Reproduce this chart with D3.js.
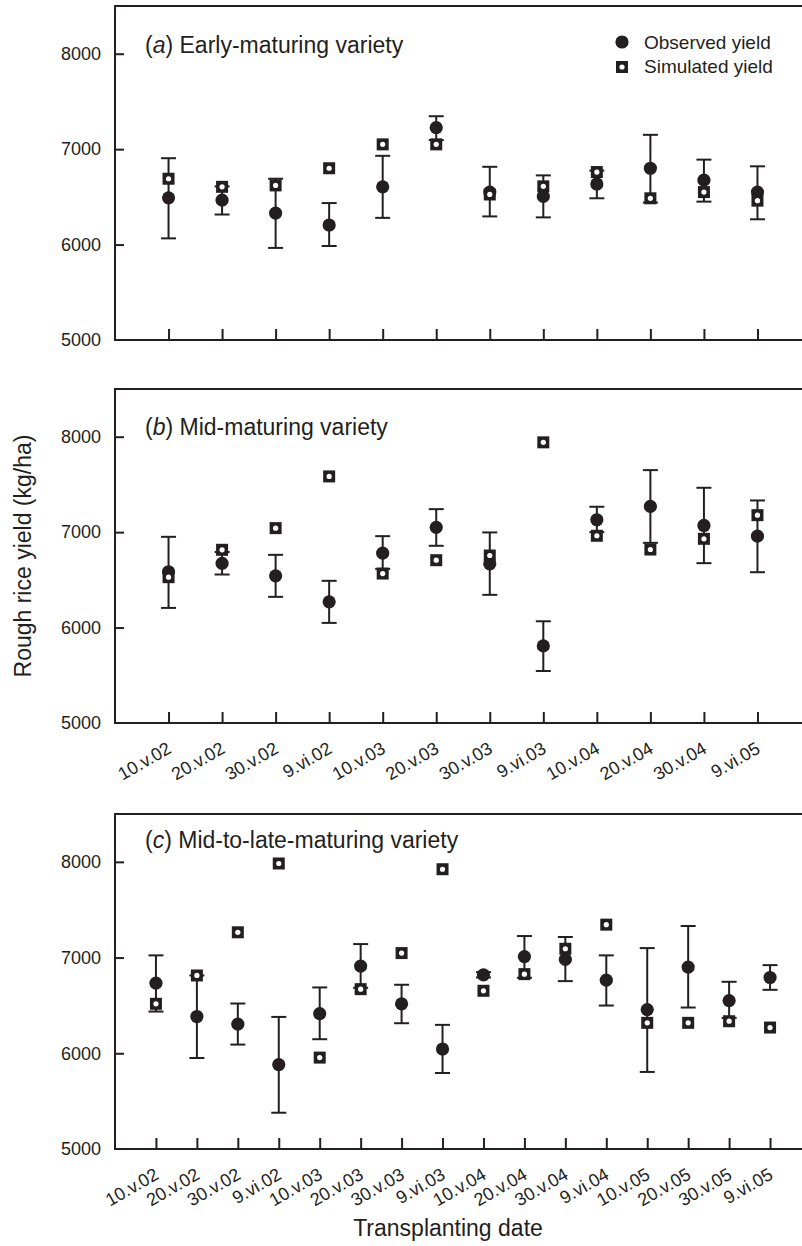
<!DOCTYPE html>
<html>
<head>
<meta charset="utf-8">
<script src="https://cdnjs.cloudflare.com/ajax/libs/d3/7.8.5/d3.min.js"></script>
<style>
  body { margin: 0; background: #fff; }
  text { font-family: "Liberation Sans", Arial, Helvetica, sans-serif; fill: #231f20; }
</style>
</head>
<body>
<div id="chart"></div>
<script>
// transplanting dates
var datesAB = ["10.v.02", "20.v.02", "30.v.02", "9.vi.02", "10.v.03", "20.v.03",
               "30.v.03", "9.vi.03", "10.v.04", "20.v.04", "30.v.04", "9.vi.05"];
var datesC = ["10.v.02", "20.v.02", "30.v.02", "9.vi.02", "10.v.03", "20.v.03",
              "30.v.03", "9.vi.03", "10.v.04", "20.v.04", "30.v.04", "9.vi.04",
              "10.v.05", "20.v.05", "30.v.05", "9.vi.05"];

// (a) early-maturing
var obsA = [6490, 6465, 6330, 6205, 6605, 7225, 6550, 6505, 6635, 6800, 6675, 6550];
var simA = [6690, 6605, 6620, 6800, 7050, 7050, 6525, 6610, 6760, 6485, 6550, 6460];
var hiA  = [6905, 6610, 6690, 6435, 6930, 7345, 6815, 6725, 6775, 7150, 6890, 6820];
var loA  = [6065, 6315, 5965, 5985, 6280, 7095, 6295, 6285, 6485, 6440, 6450, 6265];

// (b) mid-maturing
var obsB = [6585, 6672, 6542, 6270, 6780, 7050, 6668, 5808, 7130, 7270, 7070, 6958];
var simB = [6528, 6815, 7042, 7584, 6566, 6706, 6755, 7941, 6962, 6818, 6930, 7178];
var hiB  = [6951, 6792, 6762, 6490, 6958, 7241, 6997, 6066, 7266, 7650, 7465, 7332];
var loB  = [6206, 6556, 6322, 6049, 6615, 6857, 6343, 5545, 7000, 6888, 6675, 6580];

// (c) mid-to-late-maturing
var obsC = [6733, 6384, 6304, 5882, 6415, 6911, 6517, 6045, 6820, 7010, 6981, 6764, 6457, 6901, 6551, 6792];
var simC = [6517, 6813, 7264, 7983, 5955, 6670, 7047, 7923, 6653, 6827, 7092, 7344, 6318, 6318, 6335, 6269];
var hiC  = [7023, 6813, 6520, 6380, 6688, 7141, 6716, 6297, 6848, 7225, 7215, 7023, 7099, 7330, 6747, 6921];
var loC  = [6436, 5951, 6091, 5379, 6147, 6684, 6314, 5794, 6792, 6789, 6754, 6499, 5805, 6478, 6370, 6663];

var yTicks = [5000, 6000, 7000, 8000];

var panels = [
  {letter: "a", title: " Early-maturing variety", dates: datesAB, obs: obsA, sim: simA, hi: hiA, lo: loA,
   top: 6, bottom: 340, titleY: 53, labels: false, legend: true},
  {letter: "b", title: " Mid-maturing variety", dates: datesAB, obs: obsB, sim: simB, hi: hiB, lo: loB,
   top: 389, bottom: 723, titleY: 435, labels: true, legend: false},
  {letter: "c", title: " Mid-to-late-maturing variety", dates: datesC, obs: obsC, sim: simC, hi: hiC, lo: loC,
   top: 814, bottom: 1149, titleY: 848, labels: true, legend: false}
];

var W = 802, H = 1246;
var left = 115, right = 811;
var ink = "#231f20";

var svg = d3.select("#chart")
  .append("svg")
  .attr("width", W)
  .attr("height", H);

svg.append("rect").attr("width", W).attr("height", H).attr("fill", "#fff");

// simulated marker: black square with white dot
function square(g, cx, cy) {
  g.append("rect")
    .attr("x", cx - 6).attr("y", cy - 6)
    .attr("width", 12).attr("height", 12)
    .attr("fill", ink);
  g.append("circle")
    .attr("cx", cx).attr("cy", cy).attr("r", 2.6)
    .attr("fill", "#fff");
}

panels.forEach(function(p) {
  var x = d3.scalePoint()
    .domain(p.dates)
    .range([left, right])
    .padding(1);

  var y = d3.scaleLinear()
    .domain([5000, 8500])
    .range([p.bottom, p.top]);

  var g = svg.append("g");

  // frame
  g.append("rect")
    .attr("x", left).attr("y", p.top)
    .attr("width", right - left).attr("height", p.bottom - p.top)
    .attr("fill", "none")
    .attr("stroke", ink)
    .attr("stroke-width", 2);

  // y axis, ticks pointing inwards
  var yAxis = g.append("g")
    .attr("transform", "translate(" + left + ",0)")
    .call(d3.axisRight(y).tickValues(yTicks).tickSize(9).tickFormat(""));
  yAxis.select(".domain").remove();
  yAxis.selectAll("line").attr("stroke", ink).attr("stroke-width", 2);
  yAxis.selectAll(".tick").filter(function(d) { return d === 5000; }).select("line").remove();

  g.selectAll(".ylab")
    .data(yTicks)
    .enter()
    .append("text")
    .attr("x", left - 14)
    .attr("y", function(d) { return y(d); })
    .attr("dy", "0.35em")
    .attr("text-anchor", "end")
    .style("font-size", "18px")
    .text(function(d) { return d; });

  // x axis, ticks pointing up
  var xAxis = g.append("g")
    .attr("transform", "translate(0," + p.bottom + ")")
    .call(d3.axisTop(x).tickSize(11).tickFormat(""));
  xAxis.select(".domain").remove();
  xAxis.selectAll("line").attr("stroke", ink).attr("stroke-width", 2);

  if (p.labels) {
    g.selectAll(".xlab")
      .data(p.dates)
      .enter()
      .append("text")
      .attr("text-anchor", "end")
      .style("font-size", "18px")
      .attr("transform", function(d) {
        return "translate(" + (x(d) + 4) + "," + (p.bottom + 29) + ") rotate(-30)";
      })
      .text(function(d) { return d; });
  }

  // title
  var t = g.append("text")
    .attr("x", 145)
    .attr("y", p.titleY)
    .style("font-size", "23px");
  t.append("tspan").text("(");
  t.append("tspan").style("font-style", "italic").text(p.letter);
  t.append("tspan").text(")" + p.title);

  var idx = d3.range(p.dates.length);

  // error bars
  var bars = g.append("g")
    .attr("stroke", ink)
    .attr("stroke-width", 2);
  idx.forEach(function(i) {
    var cx = x(p.dates[i]);
    bars.append("line")
      .attr("x1", cx).attr("x2", cx)
      .attr("y1", y(p.hi[i])).attr("y2", y(p.lo[i]));
    bars.append("line")
      .attr("x1", cx - 7.5).attr("x2", cx + 7.5)
      .attr("y1", y(p.hi[i])).attr("y2", y(p.hi[i]));
    bars.append("line")
      .attr("x1", cx - 7.5).attr("x2", cx + 7.5)
      .attr("y1", y(p.lo[i])).attr("y2", y(p.lo[i]));
  });

  // observed
  g.append("g")
    .selectAll("circle")
    .data(idx)
    .enter()
    .append("circle")
    .attr("cx", function(i) { return x(p.dates[i]); })
    .attr("cy", function(i) { return y(p.obs[i]); })
    .attr("r", 6.6)
    .attr("fill", ink);

  // simulated
  var sims = g.append("g");
  idx.forEach(function(i) {
    square(sims, x(p.dates[i]), y(p.sim[i]));
  });

  if (p.legend) {
    var lg = g.append("g");
    lg.append("circle").attr("cx", 622).attr("cy", 42).attr("r", 6.6).attr("fill", ink);
    square(lg, 622, 67);
    lg.append("text").attr("x", 644).attr("y", 49).style("font-size", "19px").text("Observed yield");
    lg.append("text").attr("x", 644).attr("y", 73).style("font-size", "19px").text("Simulated yield");
  }
});

// axis titles
svg.append("text")
  .attr("transform", "translate(31,556) rotate(-90)")
  .attr("text-anchor", "middle")
  .style("font-size", "23px")
  .text("Rough rice yield (kg/ha)");

svg.append("text")
  .attr("x", 448)
  .attr("y", 1236)
  .attr("text-anchor", "middle")
  .style("font-size", "23px")
  .text("Transplanting date");
</script>
</body>
</html>
